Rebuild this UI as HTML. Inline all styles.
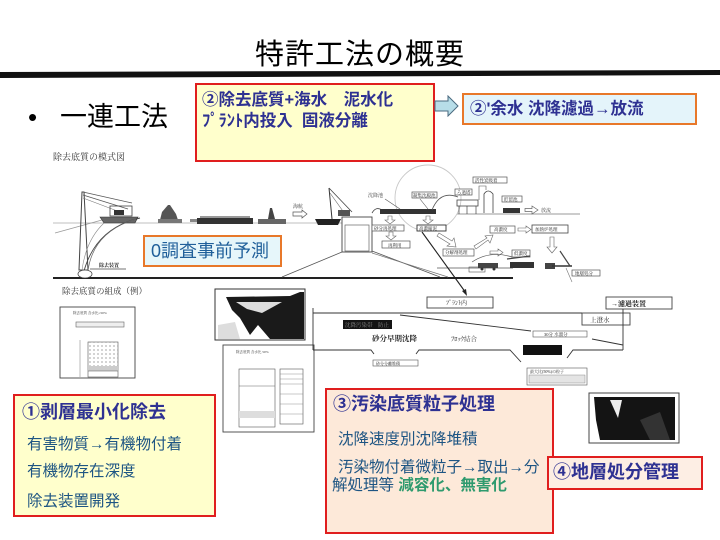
<!DOCTYPE html>
<html><head><meta charset="utf-8">
<style>
body{margin:0;width:720px;height:540px;overflow:hidden;background:#fff;position:relative;font-family:"Liberation Sans","Noto Sans CJK JP",sans-serif;}
.abs{position:absolute;box-sizing:border-box;}
.rb{border:2.5px solid #e01e1e;}
.ob{border:2px solid #e8782a;}
.nv{color:#2e3192;font-weight:bold;}
.bl{color:#1e5583;}
</style></head><body>
<svg class="abs" style="left:0;top:0" width="720" height="540" viewBox="0 0 720 540" font-family="Liberation Serif, Noto Serif CJK SC, serif">
<polygon points="0,72 720,70 720,75 0,78" fill="#111"/>

<text x="53" y="160" font-size="9" fill="#333">除去底質の模式図</text>
<line x1="53" y1="223" x2="342" y2="223" stroke="#aaa" stroke-width="0.8"/>
<line x1="55" y1="233" x2="102" y2="220" stroke="#999" stroke-width="0.8"/>
<polygon points="82,192 84,192 88,270 79,270" fill="none" stroke="#444" stroke-width="1"/>
<line x1="83" y1="192" x2="132" y2="203" stroke="#555" stroke-width="0.8"/>
<line x1="83" y1="195" x2="128" y2="209" stroke="#555" stroke-width="0.8"/>
<line x1="83" y1="198" x2="120" y2="212" stroke="#777" stroke-width="0.6"/>
<rect x="110" y="206" width="22" height="10" fill="none" stroke="#444" stroke-width="0.8"/>
<rect x="114" y="210" width="10" height="5" fill="#333"/>
<path d="M100,217 L138,217 L135,223 L104,223 Z" fill="#666" stroke="#333" stroke-width="0.6"/>
<path d="M140,218 Q96,228 84,271" fill="none" stroke="#444" stroke-width="0.9"/>
<path d="M136,219 Q93,232 88,271" fill="none" stroke="#666" stroke-width="0.7"/>
<path d="M104,223 Q86,240 82,270" fill="none" stroke="#888" stroke-width="0.6"/>
<line x1="53" y1="278" x2="513" y2="278" stroke="#222" stroke-width="2"/>
<text x="99" y="267" font-size="5" fill="#222" font-weight="bold">除去装置</text>
<line x1="90" y1="269" x2="126" y2="269" stroke="#444" stroke-width="0.7"/>
<ellipse cx="85" cy="274" rx="7" ry="4" fill="#fff" stroke="#444" stroke-width="0.8"/>
<polygon points="162,212 168,205 170,205 176,214 178,220 160,220" fill="#555"/>
<rect x="158" y="219" width="24" height="4" fill="#777"/>
<rect x="190" y="219" width="8" height="3" fill="#888"/>
<rect x="197" y="218" width="56" height="6" fill="#333"/>
<rect x="200" y="216" width="50" height="2" fill="#999"/>
<rect x="258" y="219" width="28" height="5" fill="#666"/>
<polygon points="268,219 270,208 272,208 275,219" fill="#444"/>
<text x="293" y="208" font-size="5" fill="#333">海航</text>
<polygon points="293,212 302,212 302,210 307,214 302,218 302,216 293,216" fill="#fff" stroke="#555" stroke-width="0.7"/>
<path d="M315,219 L341,219 L338,225 L318,225 Z" fill="#222"/>
<line x1="329" y1="188" x2="332" y2="219" stroke="#333" stroke-width="1"/>
<line x1="329" y1="188" x2="352" y2="212" stroke="#444" stroke-width="0.8"/>
<line x1="330" y1="193" x2="345" y2="214" stroke="#666" stroke-width="0.6"/>
<rect x="338" y="210" width="12" height="6" fill="#555"/>
<rect x="342" y="217" width="30" height="35" fill="#fff" stroke="#444" stroke-width="0.9"/>
<rect x="345" y="225" width="24" height="26" fill="none" stroke="#666" stroke-width="0.7"/>
<line x1="282" y1="277" x2="342" y2="252" stroke="#555" stroke-width="0.8"/>
<line x1="372" y1="251" x2="440" y2="277" stroke="#555" stroke-width="0.8"/>
<line x1="372" y1="253" x2="448" y2="277" stroke="#777" stroke-width="0.7"/>
<line x1="437" y1="268" x2="513" y2="268" stroke="#555" stroke-width="0.8"/>
<line x1="457" y1="214" x2="580" y2="214" stroke="#777" stroke-width="0.8"/>
<circle cx="428" cy="198" r="33" fill="none" stroke="#c8c8c8" stroke-width="0.9"/>
<text x="368" y="197" font-size="5" fill="#333">沈降池</text>
<line x1="385" y1="199" x2="400" y2="209" stroke="#555" stroke-width="0.6"/>
<path d="M372,213 Q376,206 382,210" fill="none" stroke="#444" stroke-width="0.8"/>
<rect x="380" y="209" width="56" height="5" fill="#333"/>
<rect x="412" y="192" width="25" height="6" fill="#fff" stroke="#555" stroke-width="0.7"/>
<text x="413" y="197" font-size="4.5" fill="#222">凝集沈殿池</text>
<line x1="420" y1="199" x2="428" y2="209" stroke="#555" stroke-width="0.6"/>
<path d="M432,210 Q440,190 458,197" fill="none" stroke="#555" stroke-width="0.8"/>
<rect x="455" y="189" width="17" height="6" fill="#fff" stroke="#555" stroke-width="0.7"/>
<text x="457" y="194" font-size="4.5" fill="#222">ろ過塔</text>
<rect x="457" y="200" width="21" height="6" fill="none" stroke="#444" stroke-width="0.8"/>
<line x1="459" y1="206" x2="459" y2="214" stroke="#444" stroke-width="0.7"/>
<line x1="467" y1="206" x2="467" y2="214" stroke="#444" stroke-width="0.7"/>
<line x1="476" y1="206" x2="476" y2="214" stroke="#444" stroke-width="0.7"/>
<rect x="473" y="177" width="34" height="6" fill="#fff" stroke="#555" stroke-width="0.7"/>
<text x="475" y="182" font-size="4.5" fill="#222">活性炭吸着</text>
<path d="M484,213 L484,194 Q488,188 493,194 L493,213" fill="#fff" stroke="#444" stroke-width="0.8"/>
<path d="M479,200 L479,186 L486,186 L486,190" fill="none" stroke="#555" stroke-width="0.6"/>
<rect x="502" y="196" width="20" height="6" fill="#fff" stroke="#555" stroke-width="0.7"/>
<text x="504" y="201" font-size="4.5" fill="#222">貯留池</text>
<rect x="503" y="208" width="17" height="5" fill="#333"/>
<polygon points="525,208.5 532,208.5 532,206 538,210 532,214 532,211.5 525,211.5" fill="#fff" stroke="#666" stroke-width="0.7"/>
<text x="541" y="212" font-size="5" fill="#333">放流</text>
<polygon points="388,216 392,216 392,220 395,220 390,224 385,220 388,220" fill="#fff" stroke="#666" stroke-width="0.6"/>
<polygon points="426,216 430,216 430,220 433,220 428,224 423,220 426,220" fill="#fff" stroke="#666" stroke-width="0.6"/>
<rect x="372" y="225" width="32" height="6" fill="#fff" stroke="#555" stroke-width="0.7"/>
<text x="374" y="230" font-size="4.5" fill="#222">砂分再処理</text>
<rect x="417" y="225" width="29" height="6" fill="#fff" stroke="#333" stroke-width="0.9"/>
<text x="419" y="230" font-size="4.5" fill="#222">高濃縮泥</text>
<polygon points="389,232 393,232 393,236 396,236 391,240 386,236 389,236" fill="#fff" stroke="#666" stroke-width="0.6"/>
<rect x="382" y="241" width="28" height="7" fill="#fff" stroke="#555" stroke-width="0.7"/>
<text x="388" y="247" font-size="4.5" fill="#222">再利用</text>
<polygon points="437,236 439,233 452,241 454,238 456,247 447,246 450,244" fill="#fff" stroke="#666" stroke-width="0.6"/>
<rect x="443" y="249" width="31" height="7" fill="#fff" stroke="#555" stroke-width="0.7"/>
<text x="445" y="254" font-size="4.5" fill="#222">分解剤処理</text>
<polygon points="474,246 476,249 488,240 490,243 493,235 485,236 487,238" fill="#fff" stroke="#666" stroke-width="0.6"/>
<rect x="490" y="226" width="25" height="7" fill="#fff" stroke="#555" stroke-width="0.7"/>
<text x="494" y="231" font-size="4.5" fill="#222">高濃度</text>
<polygon points="518,228 526,228 526,226 531,229.5 526,233 526,231 518,231" fill="#fff" stroke="#666" stroke-width="0.6"/>
<rect x="532" y="225" width="36" height="8" fill="#fff" stroke="#444" stroke-width="0.8"/>
<text x="535" y="231" font-size="4.5" fill="#222">加熱炉処理</text>
<polygon points="550,237 554,237 554,247 557,247 552,253 547,247 550,247" fill="#fff" stroke="#666" stroke-width="0.6"/>
<polygon points="490,251 498,251 498,249 503,252.5 498,256 498,254 490,254" fill="#fff" stroke="#666" stroke-width="0.6"/>
<rect x="512" y="250" width="18" height="7" fill="#fff" stroke="#555" stroke-width="0.7"/>
<text x="514" y="255" font-size="4.5" fill="#222">低濃度</text>
<path d="M472,262 Q490,250 512,257" fill="none" stroke="#555" stroke-width="0.7"/>
<rect x="469" y="267" width="16" height="5" fill="none" stroke="#555" stroke-width="0.6"/>
<rect x="478" y="263" width="20" height="5" fill="#444"/>
<circle cx="482" cy="269" r="1.5" fill="#333"/><circle cx="494" cy="269" r="1.5" fill="#333"/>
<line x1="507" y1="259" x2="530" y2="256" stroke="#444" stroke-width="1.2"/>
<rect x="510" y="262" width="24" height="6" fill="#333"/>
<rect x="545" y="263" width="10" height="6" fill="#444"/>
<line x1="552" y1="266" x2="572" y2="266" stroke="#333" stroke-width="1.5"/>
<line x1="560" y1="251" x2="570" y2="266" stroke="#444" stroke-width="1.2"/>
<line x1="566" y1="268" x2="572" y2="282" stroke="#777" stroke-width="0.6"/>
<rect x="572" y="270" width="28" height="6" fill="#fff" stroke="#555" stroke-width="0.7"/>
<text x="575" y="275" font-size="4.5" fill="#222">地層処分</text>
<line x1="422" y1="232" x2="466" y2="293" stroke="#222" stroke-width="1.1"/>
<polygon points="467,296 462,291 466,289" fill="#222"/>

<text x="62" y="294" font-size="8.5" fill="#333">除去底質の組成（例）</text>
<rect x="60" y="307" width="75" height="71" fill="#fff" stroke="#444" stroke-width="0.9"/>
<text x="73" y="314" font-size="3.5" fill="#333">除去底質 含水比=50%</text>
<rect x="76" y="322" width="48" height="5" fill="#eee" stroke="#666" stroke-width="0.6"/>
<line x1="80" y1="340" x2="80" y2="377" stroke="#777" stroke-width="0.5"/>
<rect x="88" y="342" width="30" height="35" fill="#fff" stroke="#555" stroke-width="0.6"/>
<rect x="88" y="342" width="30" height="24" fill="url(#dots)"/>
<rect x="88" y="366" width="30" height="5" fill="#ccc"/>
<line x1="88" y1="371" x2="118" y2="371" stroke="#555" stroke-width="0.5"/>
<defs><pattern id="dots" width="4" height="4" patternUnits="userSpaceOnUse"><circle cx="2" cy="2" r="0.6" fill="#666"/></pattern></defs>

<rect x="215" y="289" width="90" height="51" fill="#fff" stroke="#333" stroke-width="1"/>
<polygon points="226,297 290,296 300,292 304,292 304,339 270,339 258,325 250,335 240,318 232,310" fill="#1a1a1a"/>
<polygon points="236,302 282,302 262,313 247,309" fill="#ddd"/>
<polygon points="218,325 235,322 240,339 218,339" fill="#ddd"/>
<rect x="223" y="345" width="91" height="87" fill="#fff" stroke="#444" stroke-width="0.9"/>
<text x="236" y="353" font-size="3.5" fill="#333">除去底質 含水比 50%</text>
<rect x="239" y="369" width="36" height="58" fill="#fff" stroke="#555" stroke-width="0.6"/>
<line x1="239" y1="386" x2="275" y2="386" stroke="#666" stroke-width="0.5"/>
<rect x="239" y="411" width="36" height="7" fill="#ddd"/>
<rect x="280" y="369" width="23" height="55" fill="#fff" stroke="#555" stroke-width="0.6"/>
<g stroke="#777" stroke-width="0.4"><line x1="280" y1="374" x2="303" y2="374"/><line x1="280" y1="379" x2="303" y2="379"/><line x1="280" y1="384" x2="303" y2="384"/><line x1="280" y1="394" x2="303" y2="394"/><line x1="280" y1="404" x2="303" y2="404"/><line x1="280" y1="414" x2="303" y2="414"/></g>

<rect x="427" y="297" width="66" height="11" fill="#fff" stroke="#444" stroke-width="0.9"/>
<text x="446" y="305" font-size="6" fill="#222">ﾌﾟﾗﾝﾄ内</text>
<rect x="606" y="297" width="66" height="12" fill="#fff" stroke="#444" stroke-width="0.9"/>
<text x="611" y="306" font-size="7" fill="#222" font-weight="bold">→濾過装置</text>
<rect x="582" y="313" width="48" height="12" fill="#fff" stroke="#444" stroke-width="0.9"/>
<text x="590" y="322" font-size="6.5" fill="#222">上澄水</text>
<g stroke="#333" stroke-width="0.9" fill="none">
<line x1="313" y1="313" x2="582" y2="313"/>
<line x1="400" y1="315" x2="531" y2="331"/>
<line x1="592" y1="339" x2="623" y2="345"/>
<line x1="623" y1="309" x2="623" y2="350"/>
<line x1="313" y1="308" x2="313" y2="350"/>
<polyline points="313,350 371,350 374,354"/>
<polyline points="416,354 419,350 510,350 521,362"/>
<polyline points="567,358 573,350 623,350"/>
</g>
<rect x="343" y="320" width="49" height="9" fill="#141414"/>
<text x="345" y="327" font-size="5.5" fill="#888">沈降汚染帯　防止</text>
<text x="372" y="341" font-size="7.5" fill="#222" font-weight="bold">砂分早期沈降</text>
<text x="451" y="341" font-size="6.5" fill="#333">ﾌﾛｯｸ結合</text>
<rect x="533" y="331" width="54" height="6" fill="#fff" stroke="#555" stroke-width="0.6"/>
<text x="544" y="336" font-size="4.5" fill="#222">30分 水溜分</text>
<rect x="523" y="345" width="39" height="10" fill="#111"/>
<rect x="373" y="360" width="45" height="6" fill="#fff" stroke="#555" stroke-width="0.6"/>
<text x="376" y="365" font-size="4" fill="#222">砂分分離堆積</text>
<rect x="527" y="368" width="60" height="17" fill="#fff" stroke="#555" stroke-width="0.6"/>
<text x="530" y="373" font-size="4" fill="#222">最大比(50%)の粒子</text>
<rect x="529" y="375" width="56" height="8" fill="#e4e4e4" stroke="#777" stroke-width="0.4"/>
<rect x="589" y="393" width="90" height="50" fill="#fff" stroke="#444" stroke-width="1"/>
<polygon points="594,397 675,397 675,440 600,440 596,420" fill="#141414"/>
<polygon points="610,400 622,400 618,418" fill="#eee"/>
<polygon points="640,420 660,412 670,440 650,440" fill="#333"/>
</svg>

<div class="abs" style="left:0;top:37px;width:720px;text-align:center;font-size:29px;line-height:36px;letter-spacing:1px;">特許工法の概要</div>
<div class="abs" style="left:28px;top:101px;font-size:26px;line-height:32px;">•</div>
<div class="abs" style="left:60px;top:101px;font-size:27px;line-height:32px;">一連工法</div>

<div class="abs rb" style="left:195px;top:83px;width:240px;height:79px;background:#ffffcc;"></div>
<div class="abs nv" style="left:202px;top:90px;font-size:16.5px;line-height:21px;white-space:pre;">②除去底質+海水　泥水化
ﾌﾟﾗﾝﾄ内投入  固液分離</div>

<svg class="abs" style="left:433px;top:95px" width="28" height="22" viewBox="0 0 28 22">
<polygon points="2,6 15,6 15,1 25,11 15,21 15,16 2,16" fill="#b7dde8" stroke="#4a6a80" stroke-width="1"/>
</svg>

<div class="abs ob" style="left:462px;top:93px;width:235px;height:32px;background:#e4f4fa;"></div>
<div class="abs nv" style="left:470px;top:99px;font-size:16.5px;line-height:20px;white-space:nowrap;">②'余水 沈降濾過→放流</div>

<div class="abs ob" style="left:143px;top:235px;width:139px;height:32px;background:#e6f6fa;"></div>
<div class="abs" style="left:151px;top:240px;font-size:18px;line-height:22px;color:#1f5f9a;white-space:nowrap;">0調査事前予測</div>

<div class="abs rb" style="left:13px;top:394px;width:203px;height:123px;background:#ffffcc;"></div>
<div class="abs nv" style="left:22px;top:401px;font-size:18px;line-height:22px;white-space:nowrap;">①剥層最小化除去</div>
<div class="abs bl" style="left:27px;top:435px;font-size:15.5px;line-height:20px;white-space:nowrap;">有害物質→有機物付着</div>
<div class="abs bl" style="left:27px;top:462px;font-size:15.5px;line-height:20px;white-space:nowrap;">有機物存在深度</div>
<div class="abs bl" style="left:27px;top:492px;font-size:15.5px;line-height:20px;white-space:nowrap;">除去装置開発</div>

<div class="abs rb" style="left:325px;top:388px;width:229px;height:146px;background:#fde9d9;"></div>
<div class="abs nv" style="left:333px;top:393px;font-size:18px;line-height:22px;white-space:nowrap;">③汚染底質粒子処理</div>
<div class="abs bl" style="left:338px;top:430px;font-size:15.5px;line-height:20px;white-space:nowrap;">沈降速度別沈降堆積</div>
<div class="abs bl" style="left:338px;top:459px;font-size:15.5px;line-height:18px;white-space:nowrap;">汚染物付着微粒子→取出→分</div>
<div class="abs bl" style="left:332px;top:477px;font-size:15.5px;line-height:18px;white-space:nowrap;">解処理等 <span style="color:#2e9a6e;font-weight:bold;">減容化、無害化</span></div>

<div class="abs rb" style="left:547px;top:456px;width:156px;height:34px;background:#fdeee4;"></div>
<div class="abs nv" style="left:553px;top:461px;font-size:18px;line-height:22px;white-space:nowrap;">④地層処分管理</div>
</body></html>
